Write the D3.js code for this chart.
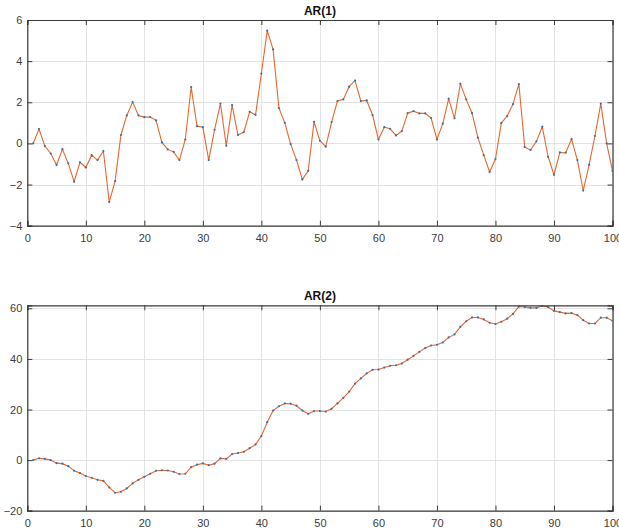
<!DOCTYPE html>
<html>
<head>
<meta charset="utf-8">
<script src="https://cdn.jsdelivr.net/npm/d3@7"></script>
<style>
  html, body { margin: 0; padding: 0; background: #fff; }
  svg { display: block; }
  text { font-family: "Liberation Sans", Arial, Helvetica, sans-serif; }
</style>
</head>
<body>
<svg id="chart" width="619" height="531"></svg>
<script>
// Simulated series, sample index 1..100
const ar1Values = [
  0.00, 0.70, -0.13, -0.49, -1.05, -0.28, -0.97, -1.86, -0.92, -1.17,
  -0.57, -0.81, -0.37, -2.85, -1.83, 0.41, 1.36, 2.01, 1.36, 1.28,
  1.28, 1.12, 0.05, -0.29, -0.41, -0.81, 0.19, 2.74, 0.84, 0.79,
  -0.81, 0.66, 1.94, -0.11, 1.86, 0.41, 0.55, 1.54, 1.39, 3.40,
  5.48, 4.57, 1.72, 1.00, -0.03, -0.81, -1.75, -1.33, 1.05, 0.13,
  -0.16, 1.04, 2.06, 2.14, 2.76, 3.06, 2.06, 2.09, 1.38, 0.19,
  0.79, 0.71, 0.39, 0.60, 1.47, 1.57, 1.46, 1.46, 1.23, 0.19,
  0.96, 2.17, 1.22, 2.90, 2.14, 1.47, 0.28, -0.57, -1.39, -0.76,
  0.99, 1.33, 1.91, 2.88, -0.18, -0.32, 0.10, 0.81, -0.65, -1.52,
  -0.44, -0.45, 0.21, -0.81, -2.29, -1.04, 0.36, 1.93, 0.00, -1.33
];

const ar2Values = [
  0.0, 0.7, 0.5, 0.0, -1.2, -1.4, -2.4, -4.2, -5.1, -6.3,
  -7.0, -7.8, -8.2, -10.8, -12.9, -12.5, -11.2, -9.2, -7.8, -6.6,
  -5.4, -4.2, -4.0, -4.1, -4.6, -5.5, -5.4, -2.8, -1.8, -1.3,
  -2.0, -1.4, 0.7, 0.5, 2.4, 2.8, 3.3, 4.7, 6.2, 9.5,
  15.0, 19.6, 21.3, 22.4, 22.3, 21.5, 19.6, 18.3, 19.4, 19.4,
  19.2, 20.3, 22.4, 24.6, 27.1, 30.2, 32.3, 34.3, 35.7, 35.8,
  36.6, 37.3, 37.5, 38.2, 39.7, 41.2, 42.8, 44.3, 45.3, 45.6,
  46.5, 48.5, 49.7, 52.7, 54.9, 56.4, 56.4, 55.6, 54.3, 53.8,
  54.7, 55.9, 57.8, 60.7, 60.5, 60.2, 60.2, 61.0, 60.5, 59.0,
  58.5, 58.0, 58.1, 57.3, 55.3, 54.0, 54.0, 56.3, 56.3, 55.1
];

const xTicks = [0, 10, 20, 30, 40, 50, 60, 70, 80, 90, 100];
const ar1Ticks = [-4, -2, 0, 2, 4, 6];
const ar2Ticks = [-20, 0, 20, 40, 60];

const panels = [
  { title: "AR(1)", values: ar1Values, yDomain: [-4, 6], yTicks: ar1Ticks,
    top: 20, bottom: 225.7 },
  { title: "AR(2)", values: ar2Values, yDomain: [-20, 61.2], yTicks: ar2Ticks,
    top: 305.3, bottom: 510.7 }
];

const svg = d3.select("#chart");
const left = 27.3, right = 612.5;
const lineColor = "#e8662f";
const dotColor = "#3f6fa8";
const frameColor = "#3a3a3a";
const gridColor = "#e3e3e3";
const tickLen = 5;

panels.forEach(p => {
  const x = d3.scaleLinear().domain([0, 100]).range([left, right]);
  const y = d3.scaleLinear().domain(p.yDomain).range([p.bottom, p.top]);
  const g = svg.append("g");
  const data = p.values.map((v, i) => ({ i: i + 1, v }));

  // grid
  g.append("g").selectAll("line").data(xTicks).join("line")
    .attr("x1", d => Math.round(x(d)) + 0.5).attr("x2", d => Math.round(x(d)) + 0.5)
    .attr("y1", p.top).attr("y2", p.bottom)
    .attr("stroke", gridColor).attr("stroke-width", 1);
  g.append("g").selectAll("line").data(p.yTicks).join("line")
    .attr("y1", d => Math.round(y(d)) + 0.5).attr("y2", d => Math.round(y(d)) + 0.5)
    .attr("x1", left).attr("x2", right)
    .attr("stroke", gridColor).attr("stroke-width", 1);

  // clip the series to the axes box
  const clipId = "clip-" + p.title.replace(/[^A-Za-z0-9]/g, "");
  svg.append("clipPath").attr("id", clipId).append("rect")
    .attr("x", left).attr("y", p.top).attr("width", right - left).attr("height", p.bottom - p.top);

  const plot = g.append("g").attr("clip-path", `url(#${clipId})`);
  plot.append("path").datum(data)
    .attr("fill", "none").attr("stroke", lineColor).attr("stroke-width", 1.1)
    .attr("d", d3.line().x(d => x(d.i)).y(d => y(d.v)));
  plot.append("g").selectAll("circle").data(data).join("circle")
    .attr("cx", d => x(d.i)).attr("cy", d => y(d.v)).attr("r", 1.1)
    .attr("fill", dotColor);

  // axes with inward ticks on all four sides
  const xb = d3.axisBottom(x).tickValues(xTicks).tickSize(-tickLen).tickPadding(9).tickFormat(d3.format("d"));
  const xt = d3.axisTop(x).tickValues(xTicks).tickSize(-tickLen).tickFormat("");
  const yl = d3.axisLeft(y).tickValues(p.yTicks).tickSize(-tickLen).tickPadding(5).tickFormat(d3.format("d"));
  const yr = d3.axisRight(y).tickValues(p.yTicks).tickSize(-tickLen).tickFormat("");

  const styleAxis = sel => {
    sel.select(".domain").attr("stroke", frameColor).attr("stroke-width", 1.2);
    sel.selectAll(".tick line").attr("stroke", frameColor).attr("stroke-width", 1);
    sel.selectAll(".tick text").attr("fill", "#3c3c3c").style("font-size", "11px")
      .style("font-family", '"Liberation Sans", Arial, Helvetica, sans-serif');
  };

  g.append("g").attr("transform", `translate(0,${p.bottom})`).call(xb).call(styleAxis);
  g.append("g").attr("transform", `translate(0,${p.top})`).call(xt).call(styleAxis);
  g.append("g").attr("transform", `translate(${left},0)`).call(yl).call(styleAxis);
  g.append("g").attr("transform", `translate(${right},0)`).call(yr).call(styleAxis);

  // title
  g.append("text")
    .attr("x", (left + right) / 2).attr("y", p.top - 5)
    .attr("text-anchor", "middle")
    .style("font-size", "12px").style("font-weight", "bold").attr("fill", "#111")
    .text(p.title);
});
</script>
</body>
</html>
